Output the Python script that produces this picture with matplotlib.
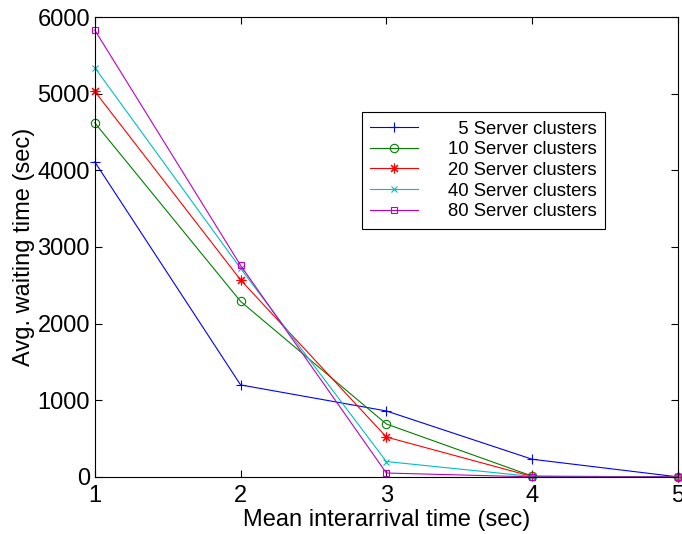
"""Average waiting time versus mean interarrival time for several cluster sizes."""

import matplotlib
matplotlib.use("Agg")
import matplotlib.pyplot as plt

plt.rcParams['font.family'] = ['Liberation Sans', 'DejaVu Sans']

interarrival = [1, 2, 3, 4, 5]
wait_5 = [4110, 1200, 860, 230, 0]
wait_10 = [4620, 2290, 690, 10, 0]
wait_20 = [5030, 2570, 520, 5, 0]
wait_40 = [5340, 2720, 200, 5, 0]
wait_80 = [5830, 2760, 50, 0, 0]

labels = ['  5 Server clusters', '10 Server clusters', '20 Server clusters',
          '40 Server clusters', '80 Server clusters']
series = [wait_5, wait_10, wait_20, wait_40, wait_80]
colors = ['#0000ff', '#008000', '#ff0000', '#00bfbf', '#bf00bf']
markers = ['+', 'o', (8, 2, 0), 'x', 's']
msizes = [7, 6, 7, 5, 5]

fig = plt.figure(figsize=(6.82, 5.34), dpi=100)
ax = fig.add_axes([0.139, 0.107, 0.855, 0.861])

for vals, lab, c, m, ms in zip(series, labels, colors, markers, msizes):
    ax.plot(interarrival, vals, color=c, marker=m, linewidth=0.8,
            markersize=ms, markerfacecolor='none',
            markeredgewidth=0.8, label=lab, clip_on=False)

ax.set_xlim(1, 5)
ax.set_ylim(0, 6000)
ax.set_xticks([1, 2, 3, 4, 5])
ax.set_yticks([0, 1000, 2000, 3000, 4000, 5000, 6000])
ax.tick_params(direction='in', top=True, right=True, labelsize=17, length=5, width=0.8)
ax.tick_params(axis='x', pad=6)
for s in ax.spines.values():
    s.set_linewidth(0.8)

ax.set_xlabel('Mean interarrival time (sec)', fontsize=17, labelpad=1)
ax.set_ylabel('Avg. waiting time (sec)', fontsize=17, labelpad=2)

leg = ax.legend(loc='upper left', bbox_to_anchor=(0.458, 0.793), borderaxespad=0,
                fontsize=13.3, fancybox=False, edgecolor='black', framealpha=1,
                handlelength=2.6, labelspacing=0.2, borderpad=0.45, handletextpad=1.6)
leg.get_frame().set_linewidth(0.8)

plt.savefig('out.png', dpi=100)
plt.close()
